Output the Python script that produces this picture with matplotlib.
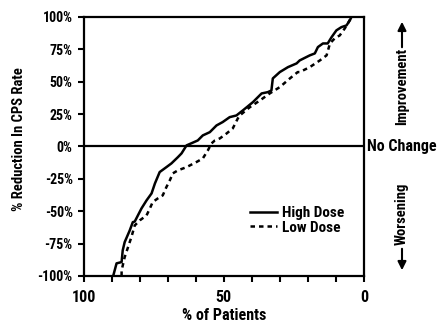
import matplotlib
matplotlib.use("Agg")
import matplotlib.pyplot as plt
from matplotlib.patches import FancyArrowPatch
from matplotlib.ticker import MultipleLocator, FixedLocator

plt.rcParams['font.family'] = ['Roboto Condensed', 'Asap Condensed', 'DejaVu Sans']
plt.rcParams['font.weight'] = 'bold'

# cumulative % of patients (x, reversed axis) vs % reduction in CPS rate
high_x = [89.5, 88.3, 86.5, 86.1, 85.4, 83.6, 82.5, 81.8, 79.4, 77.6, 75.8, 74.6,
          72.9, 70.5, 68.7, 66.4, 65.1, 63.3, 61.5, 59.3, 57.5, 55.0, 52.6, 50.4,
          47.9, 45.5, 43.2, 39.6, 36.5, 34.3, 33.0, 32.5, 30.0, 27.1, 24.0, 22.9,
          19.3, 17.5, 16.4, 14.6, 12.9, 11.5, 9.8, 8.0, 6.2, 5.0, 4.4]
high_y = [-100, -90.3, -89.3, -80.3, -73.9, -64.9, -58.5, -58.0, -47.9, -41.7, -36.3, -28.6,
          -19.8, -16.0, -13.1, -8.3, -5.4, 0.8, 2.5, 4.6, 8.5, 11.0, 16.2, 18.8,
          22.6, 23.9, 27.8, 34.2, 40.9, 41.9, 43.2, 52.5, 57.4, 61.2, 64.1, 66.4,
          70.3, 71.8, 76.7, 79.5, 79.5, 84.4, 89.6, 92.1, 93.4, 97.3, 100]

low_x = [86.5, 86.5, 85.4, 84.2, 83.0, 81.8, 80.0, 77.6, 76.4, 75.4, 73.6, 71.8,
         70.5, 69.3, 68.2, 66.4, 63.3, 59.8, 57.5, 55.7, 54.4, 53.2, 51.4, 49.0,
         46.8, 45.0, 44.3, 40.7, 37.1, 33.6, 30.0, 26.4, 23.6, 22.9, 19.3, 15.7,
         13.3, 12.1, 10.4, 8.6, 6.8, 5.7, 4.4]
low_y = [-100, -95.8, -85.5, -77.8, -70.0, -61.0, -57.1, -53.3, -47.9, -43.0, -40.2, -37.8,
         -31.4, -26.3, -20.8, -18.5, -16.0, -12.1, -9.3, -3.1, 2.3, 4.6, 6.2, 10.0,
         13.9, 21.6, 23.9, 30.3, 35.5, 40.9, 45.8, 52.5, 57.4, 57.4, 61.2, 66.4,
         70.3, 79.5, 83.4, 85.7, 91.1, 95.0, 100]

y_ticks = [-100, -75, -50, -25, 0, 25, 50, 75, 100]
y_labels = ['-100%', '-75%', '-50%', '-25%', '0%', '25%', '50%', '75%', '100%']
x_ticks = [100, 50, 0]

fig = plt.figure(figsize=(4.41, 3.25), dpi=100)
ax = fig.add_axes([0.190, 0.151, 0.635, 0.797])

ax.plot(high_x, high_y, color='black', lw=1.8, label='High Dose')
ax.plot(low_x, low_y, color='black', lw=1.8, linestyle=(0, (1.8, 1.6)), label='Low Dose')
ax.axhline(0, color='black', lw=1.6, zorder=1)

ax.set_xlim(100, 0)
ax.set_ylim(-100, 100)
for s in ax.spines.values():
    s.set_linewidth(1.6)

ax.xaxis.set_major_locator(FixedLocator(x_ticks))
ax.xaxis.set_minor_locator(MultipleLocator(10))
ax.set_yticks(y_ticks)
ax.set_yticklabels(y_labels)
ax.tick_params(axis='x', which='both', length=4, width=1.5, pad=6, labelsize=11.5)
ax.tick_params(axis='y', length=4, width=1.5, pad=4, labelsize=10)

ax.set_xlabel('% of Patients', fontsize=11.5, fontweight='bold', labelpad=2)
ax.set_ylabel('% Reduction In CPS Rate', fontsize=10.5, fontweight='bold')
ax.yaxis.set_label_coords(-0.205, 0.53)

ax.legend(loc='upper left', bbox_to_anchor=(0.595, 0.27), frameon=False,
          prop={'size': 11, 'weight': 'bold'}, handlelength=1.75,
          handletextpad=0.3, labelspacing=0.05, borderpad=0, borderaxespad=0)

# right-hand annotations
fig.text(367 / 441, 1 - 146 / 325, 'No Change', fontsize=11.5, fontweight='bold',
         ha='left', va='center')
fig.text(402 / 441, 1 - 86 / 325, 'Improvement', fontsize=10.5, fontweight='bold',
         rotation=90, ha='center', va='center')
fig.text(402 / 441, 1 - 214 / 325, 'Worsening', fontsize=10.5, fontweight='bold',
         rotation=90, ha='center', va='center')
fig.add_artist(FancyArrowPatch(
    (402 / 441, 1 - 50 / 325), (402 / 441, 1 - 19 / 325), transform=fig.transFigure,
    arrowstyle='-|>,head_length=5,head_width=2.5', color='black', lw=1.5))
fig.add_artist(FancyArrowPatch(
    (402 / 441, 1 - 246 / 325), (402 / 441, 1 - 273 / 325), transform=fig.transFigure,
    arrowstyle='-|>,head_length=5,head_width=2.5', color='black', lw=1.5))

fig.savefig('out.png', dpi=100)
